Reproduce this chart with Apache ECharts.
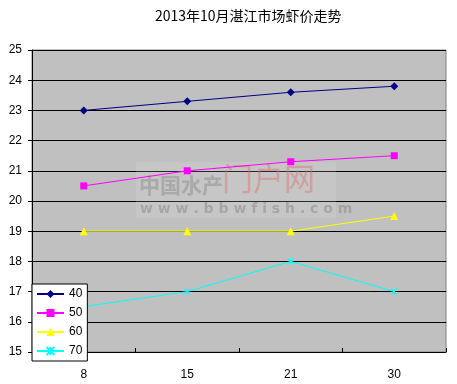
<!DOCTYPE html>
<html><head><meta charset="utf-8">
<script src="https://cdn.jsdelivr.net/npm/echarts@6/dist/echarts.min.js"></script>
<style>html,body{margin:0;padding:0;background:#fff}#c{width:457px;height:384px}</style>
</head><body><div id="c"></div>
<script>
var categories = ['8', '15', '21', '30'];
var s40 = [23.0, 23.3, 23.6, 23.8];
var s50 = [20.5, 21.0, 21.3, 21.5];
var s60 = [19.0, 19.0, 19.0, 19.5];
var s70 = [16.5, 17.0, 18.0, 17.0];
var seriesNames = ['40', '50', '60', '70'];

var chart = echarts.init(document.getElementById('c'));
var font = '"Liberation Sans", Arial, sans-serif';
function mk(name, data, color, symbol, size, extra) {
  var s = {
    name: name, type: 'line', data: data, symbol: symbol, symbolSize: size,
    lineStyle: {color: color, width: 1}, itemStyle: {color: color},
    animation: false, z: 3
  };
  if (extra) Object.assign(s, extra);
  return s;
}
chart.setOption({
  animation: false,
  title: {
    text: '2013年10月湛江市场虾价走势', left: 150, top: 4,
    textStyle: {fontSize: 14, fontWeight: 'normal', color: '#000', fontFamily: '"Noto Sans CJK SC", sans-serif'}
  },
  grid: {left: 32, right: 11, top: 50, bottom: 32, show: true, backgroundColor: '#C0C0C0', borderColor: '#808080', borderWidth: 1},
  legend: {
    orient: 'vertical', left: 32, top: 284, backgroundColor: '#fff', borderColor: '#000', borderWidth: 1,
    padding: [4, 5, 4, 4], itemWidth: 27, itemHeight: 10, itemGap: 7,
    textStyle: {fontSize: 12, color: '#000', fontFamily: font},
    data: seriesNames
  },
  xAxis: {
    type: 'category', data: categories, boundaryGap: true,
    axisLine: {lineStyle: {color: '#000', width: 1}},
    axisTick: {show: true, inside: true, length: 4, lineStyle: {color: '#000'}},
    axisLabel: {fontSize: 12, color: '#000', margin: 17, fontFamily: font},
    splitLine: {show: false}
  },
  yAxis: {
    type: 'value', min: 15, max: 25, interval: 1,
    axisLine: {show: true, lineStyle: {color: '#000', width: 1}},
    axisTick: {show: true, length: 4, lineStyle: {color: '#000'}},
    axisLabel: {fontSize: 12, color: '#000', margin: 10, fontFamily: font},
    splitLine: {show: true, lineStyle: {color: '#000', width: 1}}
  },
  graphic: [
    {type: 'rect', shape: {x: 136, y: 162, width: 200, height: 56}, style: {fill: 'rgba(230,230,230,0.18)'}, z: 1, silent: true},
    {type: 'text', left: 139, top: 175, z: 1, silent: true, style: {text: '中国水产', font: 'bold 21px "Noto Sans CJK SC"', fill: 'rgba(140,140,140,0.5)'}},
    {type: 'text', left: 222, top: 163, z: 1, silent: true, style: {text: '门户网', font: '31px "Noto Sans CJK SC"', fill: 'rgba(220,110,110,0.45)'}},
    {type: 'text', left: 140, top: 202, z: 1, silent: true, style: {text: 'w w w . b b w f i s h . c o m', font: 'bold 14px "DejaVu Sans"', fill: 'rgba(140,140,140,0.55)'}}
  ],
  series: [
    mk('40', s40, '#000080', 'diamond', 8),
    mk('50', s50, '#FF00FF', 'rect', 7),
    mk('60', s60, '#FFFF00', 'triangle', 8),
    mk('70', s70, '#00FFFF', 'path://M0,0L10,10M10,0L0,10M5,0L5,10', 6, {itemStyle: {color: '#00FFFF', borderColor: '#00FFFF', borderWidth: 1}})
  ]
});
</script></body></html>
